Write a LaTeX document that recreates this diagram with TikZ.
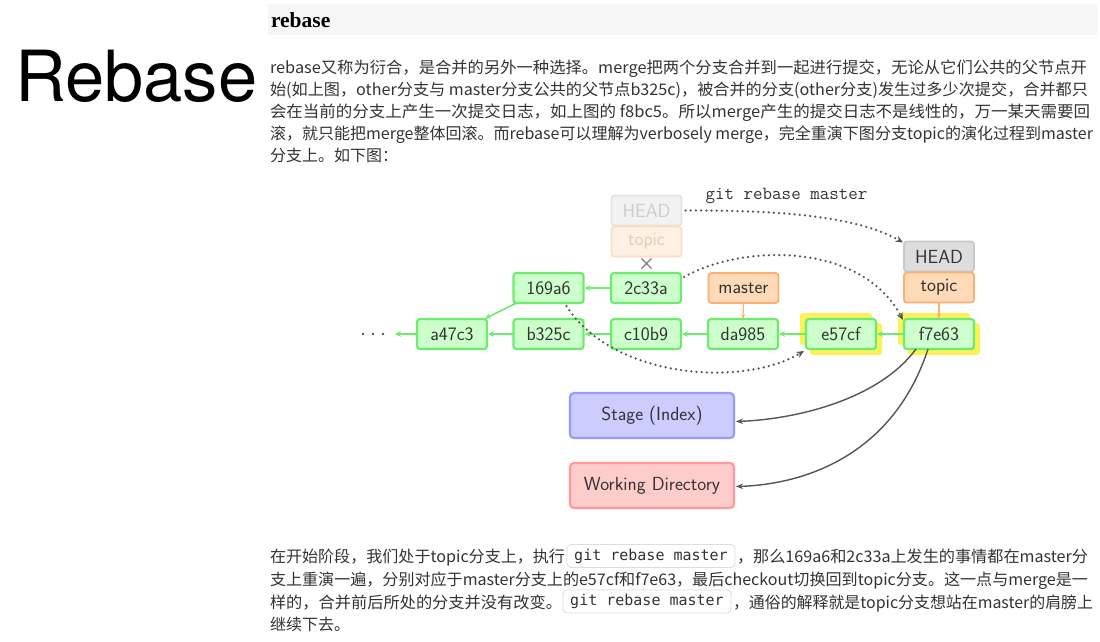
\documentclass[tikz,border=0pt]{standalone}
\usepackage{fontspec}
\usepackage{graphicx}
\newfontfamily\cjk{Noto Sans CJK SC}
\newfontfamily\titlefont{TeX Gyre Heros}
\newfontfamily\headfont{Liberation Serif}
\newfontfamily\codefont{DejaVu Sans Mono}
\usetikzlibrary{arrows.meta}
\definecolor{txt}{HTML}{333333}
\definecolor{gfill}{HTML}{CCFFCC}
\definecolor{gdraw}{HTML}{6EEA6E}
\definecolor{ofill}{HTML}{FFDAB8}
\definecolor{odraw}{HTML}{F9AE72}
\definecolor{hfill}{HTML}{DDDDDD}
\definecolor{hdraw}{HTML}{C8C8C8}
\definecolor{fhfill}{HTML}{F2F2F2}
\definecolor{fhdraw}{HTML}{E4E4E4}
\definecolor{fhtext}{HTML}{CCCCCC}
\definecolor{fofill}{HTML}{FEF0E2}
\definecolor{fodraw}{HTML}{FCDDBE}
\definecolor{fotext}{HTML}{E2CDBA}
\definecolor{bfill}{HTML}{CCCCFF}
\definecolor{bdraw}{HTML}{9999FF}
\definecolor{rfill}{HTML}{FFCCCC}
\definecolor{rdraw}{HTML}{FF9999}
\definecolor{hl}{HTML}{FDF15A}
\definecolor{band}{HTML}{F6F6F6}
\definecolor{conn}{HTML}{555555}
\definecolor{codeb}{HTML}{DDDDDD}
\newcommand\fitw[2]{\resizebox{#1}{\height}{#2}}
\begin{document}
\begin{tikzpicture}[x=1pt,y=-1pt,
  every node/.style={inner sep=0pt, outer sep=0pt},
  para/.style={anchor=base west, text=txt, font=\cjk\fontsize{16}{16}\selectfont},
  commit/.style={draw=gdraw, fill=gfill, line width=2.2pt, rounded corners=3pt,
    minimum width=70pt, minimum height=30pt, text=txt, font=\sffamily\fontsize{19}{19}\selectfont},
  label/.style={draw=odraw, fill=ofill, line width=1.8pt, rounded corners=3pt,
    minimum width=70pt, minimum height=30pt, text=txt, font=\sffamily\fontsize{19}{19}\selectfont},
  headbox/.style={label, draw=hdraw, fill=hfill},
  fadedhead/.style={label, draw=fhdraw, fill=fhfill, text=fhtext},
  fadedtopic/.style={label, draw=fodraw, fill=fofill, text=fotext},
  areabox/.style={line width=2.2pt, rounded corners=4pt, minimum width=164pt, minimum height=45pt,
    text=txt, font=\sffamily\fontsize{19}{19}\selectfont},
  garrow/.style={draw=gdraw, line width=1.6pt, -{Stealth[length=6pt,width=5.5pt]}, shorten >=1pt},
  oarrow/.style={draw=odraw, line width=1.1pt, -{Stealth[length=5pt,width=4pt]}},
  dotarrow/.style={draw=conn, line width=2.5pt, line cap=round, dash pattern=on 0pt off 5.2pt,
    -{Stealth[length=7.5pt,width=6.5pt]}},
  solidarrow/.style={draw=conn, line width=1.4pt, -{Stealth[length=7pt,width=5.5pt]}},
  codebox/.style={draw=codeb, line width=0.9pt, rounded corners=4pt, fill=white,
    minimum width=168pt, minimum height=23pt, text=txt, font=\codefont\fontsize{15}{15}\selectfont}
]
\path[use as bounding box, fill=white] (0,0) rectangle (1100,641);

% title
\node[anchor=base west, font=\titlefont\fontsize{70.5}{70.5}\selectfont, text=black] (title) at (15,101) {Rebase};

% header band
\fill[band] (268,4) rectangle (1097,35);
\node[anchor=base west, font=\headfont\bfseries\fontsize{21.5}{21.5}\selectfont, text=black] (head) at (271,27) {rebase};

% top paragraph
\node[para] (p1) at (270,73) {\fitw{817pt}{rebase又称为衍合，是合并的另外一种选择。merge把两个分支合并到一起进行提交，无论从它们公共的父节点开}};
\node[para] (p2) at (270,95) {\fitw{818pt}{始(如上图，other分支与 master分支公共的父节点b325c)，被合并的分支(other分支)发生过多少次提交，合并都只}};
\node[para] (p3) at (270,117) {\fitw{820pt}{会在当前的分支上产生一次提交日志，如上图的 f8bc5。所以merge产生的提交日志不是线性的，万一某天需要回}};
\node[para] (p4) at (270,139) {\fitw{823pt}{滚，就只能把merge整体回滚。而rebase可以理解为verbosely merge，完全重演下图分支topic的演化过程到master}};
\node[para] (p5) at (270,161) {分支上。如下图：};

% yellow highlights
\fill[hl, rounded corners=3pt] (800,313) rectangle (872,345);
\fill[hl, rounded corners=3pt] (810,323) rectangle (882,355);
\fill[hl, rounded corners=3pt] (898,313) rectangle (970,345);
\fill[hl, rounded corners=3pt] (908,323) rectangle (980,355);

% commits
\node[commit] (a47c3) at (452,334) {a47c3};
\node[commit] (b325c) at (548.5,334) {b325c};
\node[commit] (c10b9) at (646,334) {c10b9};
\node[commit] (da985) at (743,334) {da985};
\node[commit] (e57cf) at (841,334) {e57cf};
\node[commit] (f7e63) at (939,334) {f7e63};
\node[commit] (169a6) at (548.5,288) {169a6};
\node[commit] (2c33a) at (646,288) {2c33a};

% labels
\node[label] (master) at (743.5,288) {master};
\node[headbox] (HEAD) at (939,256.5) {HEAD};
\node[label] (topic) at (939,287.5) {topic};
\node[fadedhead] (fHEAD) at (646.5,210.5) {HEAD};
\node[fadedtopic] (ftopic) at (646.5,241.5) {topic};

% stage / working directory
\node[areabox, draw=bdraw, fill=bfill] (stage) at (652,415.5) {Stage (Index)};
\node[areabox, draw=rdraw, fill=rfill] (wd) at (652,485.5) {Working Directory};

% command label
\node[anchor=base, font=\ttfamily\fontsize{18.5}{18.5}\selectfont, text=txt] (cmd) at (786.5,199) {git rebase master};

% dots
\coordinate (dotsend) at (394,334);
\fill[conn] (363,334) circle (1.4pt) (373,334) circle (1.4pt) (383,334) circle (1.4pt);

% green parent arrows
\draw[garrow] (a47c3.west) -- (dotsend);
\draw[garrow] (b325c.west) -- (a47c3.east);
\draw[garrow] (c10b9.west) -- (b325c.east);
\draw[garrow] (da985.west) -- (c10b9.east);
\draw[garrow] (e57cf.west) -- (da985.east);
\draw[garrow] (f7e63.west) -- (e57cf.east);
\draw[garrow] (2c33a.west) -- (169a6.east);
\draw[garrow] ([xshift=3pt]169a6.south west) -- ([xshift=-3pt]a47c3.north east);

% orange label arrows
\draw[oarrow] (master.south) -- (da985.north);
\draw[oarrow] (topic.south) -- (f7e63.north);

% X mark under faded topic
\draw[draw=gray, line width=1.3pt] (641.5,258.5) -- (651.5,268.5) (641.5,268.5) -- (651.5,258.5);

% dotted rebase arrows
\draw[dotarrow] ([xshift=4pt]fHEAD.east) .. controls (790,210) and (860,218) .. ([xshift=-1pt,yshift=-1pt]HEAD.north west);
\draw[dotarrow] ([xshift=3pt,yshift=-4pt]2c33a.north east) .. controls (745,243) and (862,243) .. ([xshift=-1pt,yshift=-1pt]f7e63.north west);
\draw[dotarrow] ([xshift=18pt,yshift=-3pt]169a6.south) .. controls (612,378) and (742,388) .. ([xshift=-2pt,yshift=-2pt]e57cf.south west);

% checkout arrows
\draw[solidarrow] ([xshift=-23pt]f7e63.south) .. controls (880,398) and (800,419) .. ([xshift=2pt,yshift=-6pt]stage.east);
\draw[solidarrow] ([xshift=-11pt]f7e63.south) .. controls (895,450) and (812,484) .. ([xshift=2pt,yshift=-1pt]wd.east);

% bottom paragraph
\node[para] (q1a) at (270,562) {\fitw{295pt}{在开始阶段，我们处于topic分支上，执行}};
\node[codebox] (code1) at (651,556) {git rebase master};
\node[para] (q1b) at (737,562) {\fitw{351pt}{，那么169a6和2c33a上发生的事情都在master分}};
\node[para] (q2) at (270,585) {\fitw{818pt}{支上重演一遍，分别对应于master分支上的e57cf和f7e63，最后checkout切换回到topic分支。这一点与merge是一}};
\node[para] (q3a) at (270,608) {\fitw{292pt}{样的，合并前后所处的分支并没有改变。}};
\node[codebox] (code2) at (647,601.5) {git rebase master};
\node[para] (q3b) at (733,608) {\fitw{360pt}{，通俗的解释就是topic分支想站在master的肩膀上}};
\node[para] (q4) at (270,630) {继续下去。};
\end{tikzpicture}
\end{document}
